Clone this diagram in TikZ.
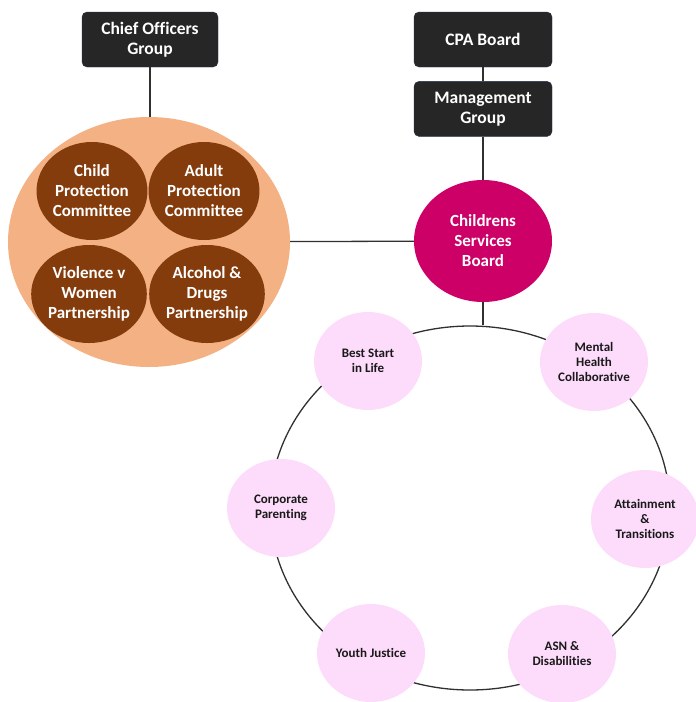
\documentclass[tikz,border=0pt]{standalone}
\usepackage{fontspec}
\setmainfont{Carlito}[Ligatures=NoCommon]
\usetikzlibrary{shapes}
\usetikzlibrary{positioning}

\definecolor{boxgrey}{HTML}{262626}
\definecolor{boxedge}{HTML}{22304A}
\definecolor{peach}{HTML}{F4B183}
\definecolor{brown}{HTML}{843C0C}
\definecolor{boardred}{HTML}{CC0066}
\definecolor{softpink}{HTML}{FDDCFB}
\definecolor{linegrey}{HTML}{303030}

\tikzset{
  topbox/.style={draw=boxedge, fill=boxgrey, rounded corners=5pt, minimum width=138pt,
    minimum height=55pt, text=white, align=center, font=\bfseries\fontsize{17.5}{20}\selectfont},
  groupoval/.style={ellipse, fill=peach, minimum width=282pt, minimum height=250pt, inner sep=0pt},
  browncirc/.style={ellipse, fill=brown, minimum width=108pt, minimum height=98pt, inner sep=0pt,
    text=white, align=center, font=\bfseries\fontsize{17}{20}\selectfont},
  boardcirc/.style={ellipse, fill=boardred, minimum width=138pt, minimum height=122pt, inner sep=0pt,
    text=white, align=center, font=\bfseries\fontsize{17}{20}\selectfont},
  ringline/.style={ellipse, draw=linegrey, line width=1.3pt, minimum width=400pt, minimum height=364pt, inner sep=0pt},
  pinkcirc/.style={ellipse, fill=softpink, minimum width=108pt, minimum height=98pt, inner sep=0pt,
    text=black!90, align=center, font=\bfseries\fontsize{13}{15}\selectfont},
  link/.style={draw=linegrey, line width=1.3pt}
}

\begin{document}
\begin{tikzpicture}[x=1pt, y=-1pt]
    \useasboundingbox (0,0) rectangle (696,702);

    % left side
    \node(cog)[topbox, minimum width=136pt] at (150,39.5){Chief Officers\\Group};
    \node(grp)[groupoval] at (149,242){};
    \node(cpc)[browncirc] at (92,191){Child\\Protection\\Committee};
    \node(apc)[browncirc] at (204,191){Adult\\Protection\\Committee};
    \node(vaw)[browncirc] at (89,294){Violence v\\Women\\Partnership};
    \node(adp)[browncirc] at (207,294){Alcohol \&\\Drugs\\Partnership};

    % right side
    \node(cpa)[topbox] at (483,39.5){CPA Board};
    \node(mgt)[topbox, below=14pt of cpa]{Management\\Group};
    \node(csb)[boardcirc] at (483,241){Childrens\\Services\\Board};

    \node(ring)[ringline] at (470,508){};
    \node(bsl)[pinkcirc] at (368,361){Best Start\\in Life};
    \node(mhc)[pinkcirc] at (594,362){Mental\\Health\\Collaborative};
    \node(cpp)[pinkcirc] at (281,508){Corporate\\Parenting};
    \node(att)[pinkcirc] at (645,519){Attainment\\\&\\Transitions};
    \node(yjs)[pinkcirc] at (371,653){Youth Justice};
    \node(asn)[pinkcirc] at (562,654){ASN \&\\Disabilities};

    \draw[link] (cog.south) -- (cog.south |- grp.north);
    \draw[link] (cpa) -- (mgt);
    \draw[link] (mgt) -- (csb);
    \draw[link] (grp) -- (csb);
    \draw[link] (csb.south) -- (csb.south |- ring.north);

\end{tikzpicture}
\end{document}
